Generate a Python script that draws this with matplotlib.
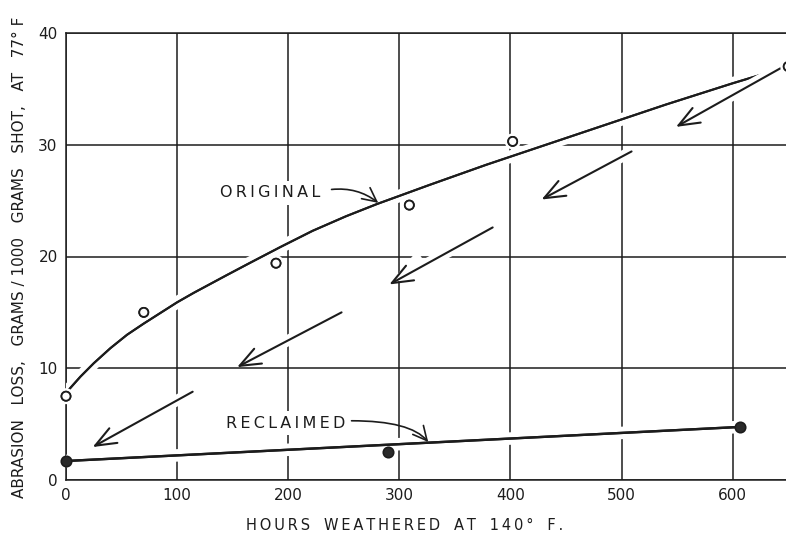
import matplotlib
matplotlib.use("Agg")
import matplotlib.pyplot as plt
import matplotlib.patheffects as pe

# abrasion loss (grams / 1000 grams shot) against hours weathered at 140 F
orig_hours = [0, 70, 189, 309, 402, 650]
orig_loss = [7.5, 15.0, 19.4, 24.6, 30.3, 37.0]

# faired curve through the original samples
orig_curve_hours = [0, 13, 25, 40, 55, 70, 85, 100, 115, 130, 145, 165, 193, 222,
                    252, 280, 298, 327, 378, 408, 438, 468, 495, 540, 600, 650]
orig_curve_loss = [7.8, 9.25, 10.45, 11.8, 13.0, 14.0, 14.95, 15.9, 16.75, 17.55,
                   18.35, 19.4, 20.85, 22.3, 23.6, 24.7, 25.35, 26.4, 28.2, 29.2,
                   30.2, 31.2, 32.1, 33.6, 35.5, 37.0]

recl_hours = [0, 290, 607]
recl_loss = [1.7, 2.5, 4.75]
recl_line_hours = [0, 607]
recl_line_loss = [1.7, 4.75]

# arrows from the original curve down towards the reclaimed line
arrow_tails = [(644, 36.9), (509, 29.4), (384, 22.6), (248, 15.0), (114, 7.9)]
arrow_heads = [(549, 31.6), (428, 25.1), (291, 17.5), (154, 10.1), (24, 2.95)]

x_ticks = [0, 100, 200, 300, 400, 500, 600]
y_ticks = [0, 10, 20, 30, 40]

ink = '#1c1c1c'
halo = [pe.withStroke(linewidth=9, foreground='white'), pe.Normal()]


def spaced(s):
    # open up the lettering a little, like stencil lettering
    return '\u2009'.join(s).replace('\u2009 \u2009', '   ')


fig = plt.figure(figsize=(7.86, 5.36), dpi=100)
ax = fig.add_axes([66 / 786, 1 - 480 / 536, 1 - 66 / 786, (480 - 33) / 536])

ax.set_xlim(0, 648)
ax.set_ylim(0, 40)
ax.set_xticks(x_ticks)
ax.set_yticks(y_ticks)
ax.grid(True, color=ink, linewidth=1.1, zorder=1)
ax.set_axisbelow(True)
for side in ['left', 'bottom', 'top']:
    ax.spines[side].set_color(ink)
    ax.spines[side].set_linewidth(1.1)
    ax.spines[side].set_zorder(1)
ax.spines['right'].set_visible(False)
ax.tick_params(length=0, pad=6, labelsize=11, labelcolor=ink)

# curves with a white halo so grid lines break where they cross
ax.plot(orig_curve_hours, orig_curve_loss, color=ink, lw=1.5, zorder=3,
        path_effects=halo, solid_capstyle='round', solid_joinstyle='round')
ax.plot(recl_line_hours, recl_line_loss, color=ink, lw=1.7, zorder=3,
        path_effects=halo, solid_capstyle='round')

ax.plot(orig_hours, orig_loss, 'o', ms=6.5, mfc='white', mec=ink, mew=1.3,
        zorder=5, clip_on=False,
        path_effects=[pe.withStroke(linewidth=5, foreground='white'), pe.Normal()])
ax.plot(recl_hours, recl_loss, 'o', ms=7.5, mfc='#2a2a2a', mec=ink, mew=1.2,
        zorder=5, clip_on=False)

head = '->,head_length=0.75,head_width=0.3'
for (x0, y0), (x1, y1) in zip(arrow_tails, arrow_heads):
    # white backing first, then the arrow itself
    ax.annotate('', xy=(x1, y1), xytext=(x0, y0), zorder=3.5,
                arrowprops=dict(arrowstyle=head, color='white', lw=8,
                                mutation_scale=20, shrinkA=0, shrinkB=0))
    ax.annotate('', xy=(x1, y1), xytext=(x0, y0), zorder=4,
                arrowprops=dict(arrowstyle=head, color=ink, lw=1.5,
                                mutation_scale=20, shrinkA=0, shrinkB=0))

# curve labels and their leader arrows
ax.text(184, 25.7, spaced('ORIGINAL'), ha='center', va='center', fontsize=11.5,
        color=ink, zorder=4, bbox=dict(boxstyle='square,pad=0.3', fc='white', ec='none'))
ax.text(198, 5.1, spaced('RECLAIMED'), ha='center', va='center', fontsize=11.5,
        color=ink, zorder=4, bbox=dict(boxstyle='square,pad=0.3', fc='white', ec='none'))

label_arrow = dict(arrowstyle='->,head_length=0.5,head_width=0.25', color=ink,
                   lw=1.2, mutation_scale=20, shrinkA=0, shrinkB=0)
ax.annotate('', xy=(281, 24.8), xytext=(239, 26.0), zorder=4,
            arrowprops=dict(label_arrow, connectionstyle='arc3,rad=-0.2'))
ax.annotate('', xy=(326, 3.4), xytext=(257, 5.3), zorder=4,
            arrowprops=dict(label_arrow, connectionstyle='angle3,angleA=0,angleB=130'))

fig.text(20 / 786, 1 - 257 / 536,
         'ABRASION   LOSS,   GRAMS / 1000   GRAMS   SHOT,   AT   77° F',
         rotation=90, ha='center', va='center', fontsize=11, color=ink)
fig.text(405 / 786, 1 - 525 / 536, spaced('HOURS WEATHERED AT 140° F.'),
         ha='center', va='center', fontsize=10.5, color=ink)

fig.savefig('out.png', dpi=100, facecolor='white')
